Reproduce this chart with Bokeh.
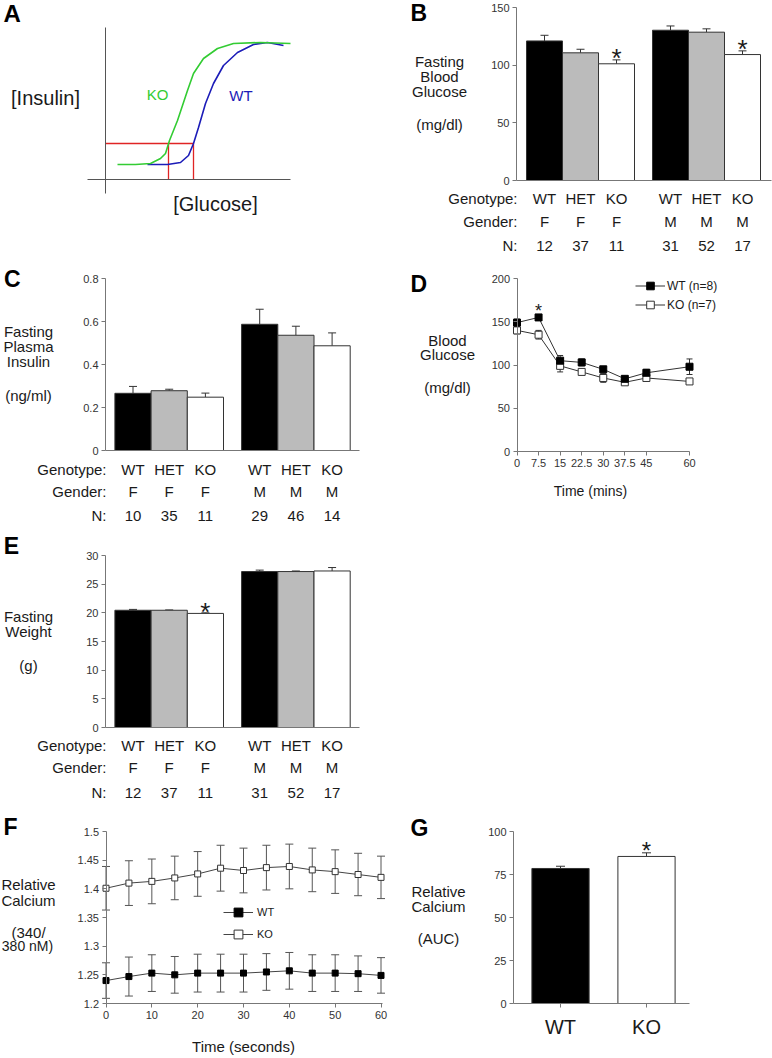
from bokeh.plotting import figure
from bokeh.layouts import row, column
from bokeh.models import (Label, Whisker, ColumnDataSource, FixedTicker, LinearAxis,
                          CustomJSTickFormatter, Legend, LegendItem, Range1d, TeeHead)
from bokeh.embed import file_html
from bokeh.resources import INLINE

FONT = "Liberation Sans"
AX = "#777777"
TXT = "#1a1a1a"
TICK_TXT = "#333333"
EDGE = "#333333"

# ---------------- data ----------------
# Panel A: schematic insulin-secretion curves (arbitrary units)
a_ko_glucose = [12, 30, 45, 55, 60, 64, 72, 82, 88, 98, 112, 128, 155, 185]
a_ko_insulin = [15, 15, 16, 21, 26, 39, 59, 89, 106, 121, 131, 136, 137, 136]
a_wt_glucose = [42, 62, 75, 83, 88, 93, 100, 108, 118, 132, 148, 162, 178]
a_wt_insulin = [15, 15, 17, 24, 36, 52, 76, 96, 114, 127, 135, 137, 134]
a_ref_insulin = 36
a_ref_glucose_ko = 63
a_ref_glucose_wt = 88

genotypes = ["WT", "HET", "KO", "WT", "HET", "KO"]
genders = ["F", "F", "F", "M", "M", "M"]

b_glucose = [121.0, 110.7, 101.2, 130.3, 128.6, 109.2]
b_glucose_sem = [4.9, 3.1, 3.4, 3.7, 2.9, 3.2]
b_sig = [False, False, True, False, False, True]
b_n = [12, 37, 11, 31, 52, 17]

c_insulin = [0.266, 0.278, 0.248, 0.587, 0.536, 0.487]
c_insulin_sem = [0.032, 0.007, 0.019, 0.070, 0.042, 0.060]
c_sig = [False] * 6
c_n = [10, 35, 11, 29, 46, 14]

d_time = [0, 7.5, 15, 22.5, 30, 37.5, 45, 60]
d_time_ticks = [0, 7.5, 15, 22.5, 30, 37.5, 45, 60]
d_wt = [149, 155, 105, 103, 95, 84, 91, 98]
d_wt_sem = [4, 3, 6, 4, 3, 2, 4, 9]
d_wt_sig = [False, True, False, False, False, False, False, False]
d_ko = [140, 135, 99, 92, 85, 80, 85, 81]
d_ko_sem = [4, 5, 7, 3, 5, 2, 4, 3]

e_weight = [20.45, 20.45, 19.9, 27.2, 27.2, 27.3]
e_weight_sem = [0.15, 0.05, 0.1, 0.25, 0.1, 0.6]
e_sig = [False, False, True, False, False, False]
e_n = [12, 37, 11, 31, 52, 17]

f_time = [0, 5, 10, 15, 20, 25, 30, 35, 40, 45, 50, 55, 60]
f_ko = [1.401, 1.410, 1.413, 1.419, 1.426, 1.436, 1.432, 1.437, 1.439, 1.433, 1.430, 1.425, 1.420]
f_ko_sem = [0.038, 0.039, 0.039, 0.038, 0.039, 0.040, 0.039, 0.039, 0.039, 0.038, 0.038, 0.037, 0.037]
f_wt = [1.240, 1.247, 1.253, 1.250, 1.253, 1.253, 1.253, 1.255, 1.257, 1.253, 1.253, 1.252, 1.249]
f_wt_sem = [0.031, 0.034, 0.032, 0.032, 0.033, 0.033, 0.033, 0.032, 0.032, 0.032, 0.032, 0.031, 0.031]

g_groups = ["WT", "KO"]
g_auc = [78.5, 85.5]
g_auc_sem = [1.3, 2.1]
g_sig = [False, True]

# ---------------- helpers ----------------
fmt = CustomJSTickFormatter(code="return String(Math.round(tick*1000)/1000);")


def style_axis(ax, color=AX, size="11px"):
    ax.axis_line_color = color
    ax.major_tick_line_color = color
    ax.minor_tick_line_color = None
    ax.major_tick_out = 4
    ax.major_tick_in = 0
    ax.major_label_text_font = FONT
    ax.major_label_text_font_size = size
    ax.major_label_text_color = TICK_TXT
    ax.major_label_standoff = 3


class Panel:
    """A figure covering a page region (ox, oy, w, h); the data box xr x yr maps
    onto the page-pixel box (bx0, by0)-(bx1, by1)."""

    def __init__(self, ox, oy, w, h, bx0, by0, bx1, by1, xr, yr):
        self.bx0, self.by0, self.bx1, self.by1 = bx0, by0, bx1, by1
        self.xr, self.yr = xr, yr
        self.sx = (bx1 - bx0) / (xr[1] - xr[0])
        self.sy = (by1 - by0) / (yr[1] - yr[0])
        p = figure(width=w, height=h,
                   x_range=Range1d(self.dx(ox), self.dx(ox + w)),
                   y_range=Range1d(self.dy(oy + h), self.dy(oy)),
                   x_axis_type=None, y_axis_type=None, title=None,
                   output_backend="svg", toolbar_location=None, min_border=0)
        p.outline_line_color = None
        p.background_fill_color = "white"
        p.border_fill_color = "white"
        self.p = p

    def dx(self, px):
        return self.xr[0] + (px - self.bx0) / self.sx

    def dy(self, py):
        return self.yr[0] + (self.by1 - py) / self.sy

    def py(self, y):
        return self.by1 - (y - self.yr[0]) * self.sy

    def axes(self, xticks, yticks, xloc=None, yloc=None, xbounds=None, ybounds=None,
             color=AX, xformatter=None):
        yax = LinearAxis(fixed_location=self.xr[0] if yloc is None else yloc,
                         bounds=ybounds or self.yr, ticker=FixedTicker(ticks=yticks),
                         formatter=fmt)
        style_axis(yax, color)
        self.p.add_layout(yax, "left")
        xax = LinearAxis(fixed_location=self.yr[0] if xloc is None else xloc,
                         bounds=xbounds or self.xr, ticker=FixedTicker(ticks=xticks),
                         formatter=xformatter or fmt)
        style_axis(xax, color)
        self.p.add_layout(xax, "below")
        return xax, yax

    def text_at(self, xd, pyc, s, size=15, color=TXT, align="center", bold=False, k=0.36):
        # pyc: visual centre of the text; k: height of that centre above the baseline (em)
        base = pyc + (k - 0.36) * size
        self.p.add_layout(Label(x=xd, y=self.dy(base), text=s, text_font=FONT,
                                text_font_size=f"{size}px", text_color=color,
                                text_align=align, text_baseline="alphabetic",
                                text_font_style="bold" if bold else "normal"))

    def text(self, pxc, pyc, s, **kw):
        self.text_at(self.dx(pxc), pyc, s, **kw)

    def star(self, xd, ytop, size, gap=8):
        c = self.py(ytop) - gap
        self.text_at(xd, c, "*", size=size, k=0.58)


def bar_panel(pan, pos, values, sems, sig, ns, ticks, rows_py, right_px, star_size, gap):
    p = pan.p
    colors = ["#000000", "#bbbbbb", "#ffffff"] * 2
    src = ColumnDataSource(dict(x=pos, top=values, upper=[v + s for v, s in zip(values, sems)],
                                color=colors))
    p.vbar(x="x", top="top", bottom=0, width=1.0, fill_color="color",
           line_color=EDGE, line_width=1, source=src)
    p.add_layout(Whisker(source=src, base="x", lower="top", upper="upper", dimension="height",
                         line_color=EDGE, line_width=1,
                         upper_head=TeeHead(size=8, line_color=EDGE, line_width=1),
                         lower_head=None))
    pan.axes([], ticks)
    for x, v, s, g in zip(pos, values, sems, sig):
        if g:
            pan.star(x, v + s, star_size, gap)
    rows = [("Genotype:", genotypes), ("Gender:", genders), ("N:", [str(n) for n in ns])]
    for (title, vals), pyc in zip(rows, rows_py):
        pan.text(right_px, pyc, title, align="right")
        for x, v in zip(pos, vals):
            pan.text_at(x, pyc, v)


def y_title(pan, xc, lines):
    for s, pyc in lines:
        pan.text(xc, pyc, s, k=0.30)


bar_pos = [1, 2, 3, 4.5, 5.5, 6.5]

# ---------------- Panel A ----------------
pa = Panel(0, 0, 390, 262, 87, 27, 290, 193, (-18, 185), (-14, 152))
pa.axes([], [], xloc=0, yloc=0, color="#555555")
pa.p.multi_line(xs=[[0, a_ref_glucose_wt], [a_ref_glucose_ko, a_ref_glucose_ko],
                    [a_ref_glucose_wt, a_ref_glucose_wt]],
                ys=[[a_ref_insulin, a_ref_insulin], [a_ref_insulin, 0], [a_ref_insulin, 0]],
                line_color="#e02424", line_width=1.3)
pa.p.line(a_wt_glucose, a_wt_insulin, line_color="#1c1cb8", line_width=1.6)
pa.p.line(a_ko_glucose, a_ko_insulin, line_color="#33cc33", line_width=1.6)
pa.text(11.7, 13.3, "A", size=24, bold=True, color="#000000")
pa.text(45, 99, "[Insulin]", size=20, k=0.30)
pa.text(215, 205, "[Glucose]", size=20, k=0.30)
pa.text(157, 94, "KO", size=15, color="#33cc33")
pa.text(240.5, 95, "WT", size=15, color="#1c1cb8")

# ---------------- Panel B ----------------
bx0 = 1 + (516 - 544) / 36
bx1 = 1 + (771 - 544) / 36
pb = Panel(390, 0, 382, 262, 516, 7, 771, 180, (bx0, bx1), (0, 150))
bar_panel(pb, bar_pos, b_glucose, b_glucose_sem, b_sig, b_n, [0, 50, 100, 150],
          [198, 221, 245], 517, 26, 8)
pb.text(418.3, 12.5, "B", size=23, bold=True, color="#000000")
y_title(pb, 439, [("Fasting", 62), ("Blood", 77), ("Glucose", 92), ("(mg/dl)", 125)])

# ---------------- Panel C ----------------
cx0 = 1 + (105 - 132.5) / 36.2
cx1 = 1 + (359 - 132.5) / 36.2
pc = Panel(0, 262, 390, 263, 105, 278, 359, 450, (cx0, cx1), (0, 0.8))
bar_panel(pc, bar_pos, c_insulin, c_insulin_sem, c_sig, c_n, [0, 0.2, 0.4, 0.6, 0.8],
          [469, 491, 515], 106, 26, 8)
pc.text(11.7, 278.3, "C", size=23, bold=True, color="#000000")
y_title(pc, 28, [("Fasting", 332), ("Plasma", 347), ("Insulin", 362), ("(ng/ml)", 396)])

# ---------------- Panel D ----------------
pd = Panel(390, 262, 382, 263, 516.5, 278, 689, 451, (0, 60), (0, 200))
pd.axes(d_time_ticks, [0, 50, 100, 150, 200])
src_dko = ColumnDataSource(dict(t=d_time, y=d_ko, lo=[v - s for v, s in zip(d_ko, d_ko_sem)],
                                hi=[v + s for v, s in zip(d_ko, d_ko_sem)]))
src_dwt = ColumnDataSource(dict(t=d_time, y=d_wt, lo=[v - s for v, s in zip(d_wt, d_wt_sem)],
                                hi=[v + s for v, s in zip(d_wt, d_wt_sem)]))
for src in (src_dko, src_dwt):
    pd.p.add_layout(Whisker(source=src, base="t", lower="lo", upper="hi", dimension="height",
                            line_color=EDGE, line_width=1,
                            upper_head=TeeHead(size=6, line_color=EDGE, line_width=1),
                            lower_head=TeeHead(size=6, line_color=EDGE, line_width=1)))
l_dko = pd.p.line("t", "y", source=src_dko, line_color=EDGE, line_width=1)
s_dko = pd.p.scatter("t", "y", source=src_dko, marker="square", size=7,
                     fill_color="white", line_color=EDGE, line_width=1)
l_dwt = pd.p.line("t", "y", source=src_dwt, line_color=EDGE, line_width=1)
s_dwt = pd.p.scatter("t", "y", source=src_dwt, marker="square", size=7,
                     fill_color="black", line_color="black", line_width=1)
for t, v, s, g in zip(d_time, d_wt, d_wt_sem, d_wt_sig):
    if g:
        pd.star(t, v + s, 18, 8)
leg_d = Legend(items=[LegendItem(label="WT (n=8)", renderers=[l_dwt, s_dwt]),
                      LegendItem(label="KO (n=7)", renderers=[l_dko, s_dko])],
               location=(245, 211), padding=0, margin=0, spacing=0,
               border_line_color=None, background_fill_alpha=0,
               glyph_width=30, glyph_height=19, label_height=19, label_standoff=2,
               label_text_font=FONT, label_text_font_size="12px", label_text_color=TXT)
pd.p.add_layout(leg_d)
pd.text(418.3, 283.8, "D", size=23, bold=True, color="#000000")
y_title(pd, 447, [("Blood", 340.7), ("Glucose", 355), ("(mg/dl)", 388.3)])
pd.text(590, 491, "Time (mins)", size=14, k=0.30)

# ---------------- Panel E ----------------
pe = Panel(0, 525, 390, 277, 105, 555, 359, 727, (cx0, cx1), (0, 30))
bar_panel(pe, bar_pos, e_weight, e_weight_sem, e_sig, e_n, [0, 5, 10, 15, 20, 25, 30],
          [745, 767, 792], 106, 26, 7)
pe.text(10.8, 545, "E", size=23, bold=True, color="#000000")
y_title(pe, 28, [("Fasting", 617), ("Weight", 632), ("(g)", 666)])

# ---------------- Panel F ----------------
pf = Panel(0, 802, 390, 256, 105.5, 831, 380.5, 1003, (0, 60), (1.2, 1.5))
pf.axes([0, 10, 20, 30, 40, 50, 60], [1.2, 1.25, 1.3, 1.35, 1.4, 1.45, 1.5],
        xbounds=(0, 60.4))
src_fko = ColumnDataSource(dict(t=f_time, y=f_ko, lo=[v - s for v, s in zip(f_ko, f_ko_sem)],
                                hi=[v + s for v, s in zip(f_ko, f_ko_sem)]))
src_fwt = ColumnDataSource(dict(t=f_time, y=f_wt, lo=[v - s for v, s in zip(f_wt, f_wt_sem)],
                                hi=[v + s for v, s in zip(f_wt, f_wt_sem)]))
for src in (src_fko, src_fwt):
    pf.p.add_layout(Whisker(source=src, base="t", lower="lo", upper="hi", dimension="height",
                            line_color="#555555", line_width=1,
                            upper_head=TeeHead(size=8, line_color="#555555", line_width=1),
                            lower_head=TeeHead(size=8, line_color="#555555", line_width=1)))
l_fko = pf.p.line("t", "y", source=src_fko, line_color="#444444", line_width=1)
s_fko = pf.p.scatter("t", "y", source=src_fko, marker="square", size=6,
                     fill_color="white", line_color=EDGE, line_width=1)
l_fwt = pf.p.line("t", "y", source=src_fwt, line_color="#444444", line_width=1)
s_fwt = pf.p.scatter("t", "y", source=src_fwt, marker="square", size=6,
                     fill_color="black", line_color="black", line_width=1)
leg_f = Legend(items=[LegendItem(label="WT", renderers=[l_fwt, s_fwt]),
                      LegendItem(label="KO", renderers=[l_fko, s_fko])],
               location=(223, 113), padding=0, margin=0, spacing=0,
               border_line_color=None, background_fill_alpha=0,
               glyph_width=30, glyph_height=22, label_height=22, label_standoff=4,
               label_text_font=FONT, label_text_font_size="11px", label_text_color=TXT)
pf.p.add_layout(leg_f)
pf.text(10, 826.7, "F", size=23, bold=True, color="#000000")
y_title(pf, 28, [("Relative", 885), ("Calcium", 900.5), ("(340/", 932.5)])
pf.text(27, 946, "380 nM)", size=14, k=0.30)
pf.text(243, 1046.7, "Time (seconds)", size=15, k=0.30)

# ---------------- Panel G ----------------
gx0 = 1 + (513 - 560) / 86
gx1 = 1 + (689 - 560) / 86
pg = Panel(390, 802, 382, 256, 513, 831, 689, 1003, (gx0, gx1), (0, 100))
g_pos = [1, 2]
src_g = ColumnDataSource(dict(x=g_pos, top=g_auc, upper=[v + s for v, s in zip(g_auc, g_auc_sem)],
                              color=["#000000", "#ffffff"]))
pg.p.vbar(x="x", top="top", bottom=0, width=0.665, fill_color="color",
          line_color=EDGE, line_width=1, source=src_g)
pg.p.add_layout(Whisker(source=src_g, base="x", lower="top", upper="upper", dimension="height",
                        line_color=EDGE, line_width=1,
                        upper_head=TeeHead(size=9, line_color=EDGE, line_width=1),
                        lower_head=None))
g_fmt = CustomJSTickFormatter(args=dict(names=g_groups),
                              code="return names[Math.round(tick) - 1];")
gxax, gyax = pg.axes(g_pos, [0, 25, 50, 75, 100], xformatter=g_fmt)
gxax.major_label_text_font_size = "20px"
gxax.major_label_text_color = TXT
gxax.major_label_standoff = 8
for x, v, s, g in zip(g_pos, g_auc, g_auc_sem, g_sig):
    if g:
        pg.star(x, v + s, 24, 8)
pg.text(419, 827.5, "G", size=23, bold=True, color="#000000")
y_title(pg, 438, [("Relative", 891.7), ("Calcium", 906.7), ("(AUC)", 939.3)])

layout = column(row(pa.p, pb.p), row(pc.p, pd.p), pe.p, row(pf.p, pg.p))
open("out.html", "w").write(file_html(layout, INLINE))
